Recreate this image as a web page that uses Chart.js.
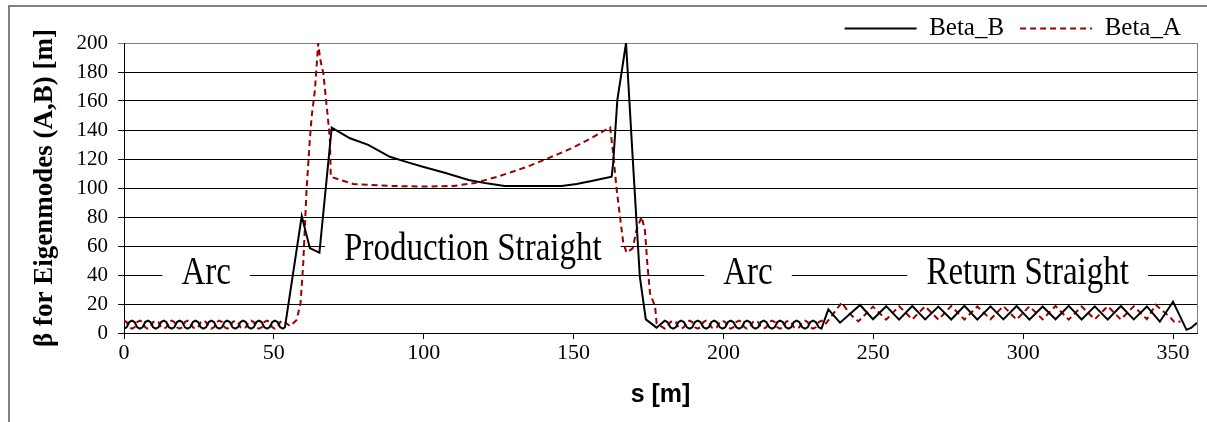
<!DOCTYPE html>
<html>
<head>
<meta charset="utf-8">
<script src="https://cdn.jsdelivr.net/npm/chart.js@4.4.0/dist/chart.umd.min.js"></script>
<style>
    html, body { margin: 0; padding: 0; background: #fff; }
    #betaChart { display: block; }
</style>
</head>
<body>
<canvas id="betaChart" width="1207" height="422"></canvas>
<script>
// Beta functions along the ring
const xTickValues = [0, 50, 100, 150, 200, 250, 300, 350];
const yTickValues = [0, 20, 40, 60, 80, 100, 120, 140, 160, 180, 200];

// Beta_B (solid black)
const sB = [
    // arc 1
    0, 0.88, 1.77, 2.65, 3.53, 4.42, 5.3, 6.18, 7.07, 7.95, 8.83, 9.72, 10.6, 11.48, 12.37, 13.25, 14.13, 15.02, 15.9, 16.78,
    17.67, 18.55, 19.43, 20.32, 21.2, 22.08, 22.97, 23.85, 24.73, 25.62, 26.5, 27.38, 28.27, 29.15, 30.03, 30.92, 31.8, 32.68,
    33.57, 34.45, 35.33, 36.22, 37.1, 37.98, 38.87, 39.75, 40.63, 41.52, 42.4, 43.28, 44.17, 45.05, 45.93, 46.82, 47.7, 48.58,
    49.47, 50.35, 51.23, 52.12, 53.0,
    // production straight
    53.7, 59.3, 62.0, 65.2, 69.3, 75.4, 81.5, 88.7, 95, 100, 107, 115, 121, 127, 137, 146, 151, 156, 162.7, 163.2, 164.6, 167.5,
    169.7, 172.1, 174.1, 177.7,
    // arc 2
    180.4, 181.3, 182.3, 183.2, 184.1, 185.0, 185.9, 186.8, 187.8, 188.7, 189.6, 190.5, 191.4, 192.3, 193.3, 194.2, 195.1, 196.0,
    196.9, 197.8, 198.8, 199.7, 200.6, 201.5, 202.4, 203.3, 204.3, 205.2, 206.1, 207.0, 207.9, 208.8, 209.8, 210.7, 211.6, 212.5,
    213.4, 214.3, 215.3, 216.2, 217.1, 218.0, 218.9, 219.8, 220.8, 221.7, 222.6, 223.5, 224.4, 225.3, 226.3, 227.2, 228.1, 229.0,
    229.9, 230.8, 231.8, 232.7,
    // return straight
    235.0, 238.9, 245.6, 249.9, 254.3, 258.6, 263.0, 267.3, 271.7, 276.0, 280.4, 284.7, 289.1, 293.4, 297.8, 302.1, 306.5, 310.8,
    315.2, 319.5, 323.9, 328.2, 332.6, 336.9, 341.3, 345.6, 350.0, 354.5, 356.0, 358.0
];
const betaB = [
    3, 3.9, 7.6, 8.5, 7.6, 3.9, 3, 3.9, 7.6, 8.5, 7.6, 3.9, 3, 3.9, 7.6, 8.5, 7.6, 3.9, 3, 3.9,
    7.6, 8.5, 7.6, 3.9, 3, 3.9, 7.6, 8.5, 7.6, 3.9, 3, 3.9, 7.6, 8.5, 7.6, 3.9, 3, 3.9,
    7.6, 8.5, 7.6, 3.9, 3, 3.9, 7.6, 8.5, 7.6, 3.9, 3, 3.9, 7.6, 8.5, 7.6, 3.9, 3, 3.9,
    7.6, 8.5, 7.6, 3.9, 3,
    4, 80.7, 58.6, 55.4, 141.6, 134.3, 129.7, 121.5, 117.5, 114.5, 110.5, 105.5, 103.2, 101.4, 101.3, 101.4, 102.8, 104.8, 107.8, 117, 160.7, 200,
    121.6, 38.8, 9.4, 3.7,
    8.5, 7.6, 3.9, 3, 3.9, 7.6, 8.5, 7.6, 3.9, 3, 3.9, 7.6, 8.5, 7.6, 3.9, 3, 3.9, 7.6,
    8.5, 7.6, 3.9, 3, 3.9, 7.6, 8.5, 7.6, 3.9, 3, 3.9, 7.6, 8.5, 7.6, 3.9, 3, 3.9, 7.6,
    8.5, 7.6, 3.9, 3, 3.9, 7.6, 8.5, 7.6, 3.9, 3, 3.9, 7.6, 8.5, 7.6, 3.9, 3, 3.9, 7.6,
    8.5, 7.6, 3.9, 3,
    16.3, 7.1, 19.3, 9.5, 18.5, 9.2, 18.6, 9.4, 18.2, 9.3, 18.8, 9.2, 18.4, 9.4, 18.6, 9.2, 18.3, 9.5,
    18.7, 9.3, 18.4, 9.2, 18.6, 9.4, 18.3, 7.8, 21.6, 2.2, 3.5, 7
];

// Beta_A (dashed red)
const sA = [
    // arc 1
    0, 0.88, 1.77, 2.65, 3.53, 4.42, 5.3, 6.18, 7.07, 7.95, 8.83, 9.72, 10.6, 11.48, 12.37, 13.25, 14.13, 15.02, 15.9, 16.78,
    17.67, 18.55, 19.43, 20.32, 21.2, 22.08, 22.97, 23.85, 24.73, 25.62, 26.5, 27.38, 28.27, 29.15, 30.03, 30.92, 31.8, 32.68,
    33.57, 34.45, 35.33, 36.22, 37.1, 37.98, 38.87, 39.75, 40.63, 41.52, 42.4, 43.28, 44.17, 45.05, 45.93, 46.82, 47.7, 48.58,
    49.47, 50.35, 51.23, 52.12, 53.0,
    // production straight
    55.4, 57.6, 58.9, 59.8, 60.9, 62.0, 62.6, 63.7, 64.8, 65.4, 66.5, 68.1, 68.7, 69.0, 71.5, 76.5, 88.7, 100, 110, 117, 125, 135, 145,
    150, 155.5, 162.2, 163.2, 164.4, 165.5, 166.6, 167.7, 169.7, 171.0, 172.7, 173.8, 174.6, 175.5, 177.2, 177.7,
    // arc 2
    180.4, 181.3, 182.3, 183.2, 184.1, 185.0, 185.9, 186.8, 187.8, 188.7, 189.6, 190.5, 191.4, 192.3, 193.3, 194.2, 195.1, 196.0,
    196.9, 197.8, 198.8, 199.7, 200.6, 201.5, 202.4, 203.3, 204.3, 205.2, 206.1, 207.0, 207.9, 208.8, 209.8, 210.7, 211.6, 212.5,
    213.4, 214.3, 215.3, 216.2, 217.1, 218.0, 218.9, 219.8, 220.8, 221.7, 222.6, 223.5, 224.4, 225.3, 226.3, 227.2, 228.1, 229.0,
    229.9, 230.8, 231.8, 232.7,
    // return straight
    234.0, 238.0, 239.5, 242.0, 245.0, 249.9, 254.3, 258.6, 263.0, 267.3, 271.7, 276.0, 280.4, 284.7, 289.1, 293.4, 297.8, 302.1,
    306.5, 310.8, 315.2, 319.5, 323.9, 328.2, 332.6, 336.9, 341.3, 344.2, 349.0, 350.5, 352.5
];
const betaA = [
    8.5, 7.6, 3.9, 3, 3.9, 7.6, 8.5, 7.6, 3.9, 3, 3.9, 7.6, 8.5, 7.6, 3.9, 3, 3.9, 7.6, 8.5, 7.6,
    3.9, 3, 3.9, 7.6, 8.5, 7.6, 3.9, 3, 3.9, 7.6, 8.5, 7.6, 3.9, 3, 3.9, 7.6, 8.5, 7.6,
    3.9, 3, 3.9, 7.6, 8.5, 7.6, 3.9, 3, 3.9, 7.6, 8.5, 7.6, 3.9, 3, 3.9, 7.6, 8.5, 7.6,
    3.9, 3, 3.9, 7.6, 8.5,
    4.8, 9, 20.5, 48, 98.6, 133, 149, 167.6, 200, 189.5, 179, 147, 133, 107.8, 106, 102.8, 101.4, 101, 101.4, 103.5, 108, 115, 123.5,
    128, 134, 141.8, 123.9, 98.6, 80, 61.8, 55.4, 58.4, 71, 80.2, 71, 48, 27.4, 18.2, 6.7,
    3, 3.9, 7.6, 8.5, 7.6, 3.9, 3, 3.9, 7.6, 8.5, 7.6, 3.9, 3, 3.9, 7.6, 8.5, 7.6, 3.9,
    3, 3.9, 7.6, 8.5, 7.6, 3.9, 3, 3.9, 7.6, 8.5, 7.6, 3.9, 3, 3.9, 7.6, 8.5, 7.6, 3.9,
    3, 3.9, 7.6, 8.5, 7.6, 3.9, 3, 3.9, 7.6, 8.5, 7.6, 3.9, 3, 3.9, 7.6, 8.5, 7.6, 3.9,
    3, 3.9, 7.6, 8.5,
    6, 17, 21, 13.6, 8, 18.2, 9.2, 18.5, 9.4, 18.4, 9.2, 18.6, 9.3, 18.3, 9.5, 18.6, 9.2, 18.4,
    9.4, 18.6, 9.2, 18.3, 9.4, 18.5, 9.3, 18.4, 9.5, 19.5, 11, 7.5, 8
];

// Section labels on the plot (s, beta of text baseline)
const regionNames = ["Arc", "Production Straight", "Arc", "Return Straight"];
const regionS = [27.4, 116.4, 208.2, 301.5];
const regionV = [34.1, 50.3, 34.1, 34.1];

let betaChartInstance = null;

// Gray outer frame and plot border
const framePlugin = {
    id: "frame",
    beforeDraw(chart) {
        const ctx = chart.ctx;
        ctx.save();
        ctx.fillStyle = "#fff";
        ctx.fillRect(0, 0, chart.width, chart.height);
        ctx.strokeStyle = "#808080";
        ctx.lineWidth = 2;
        ctx.beginPath();
        ctx.moveTo(9, chart.height);
        ctx.lineTo(9, 6);
        ctx.lineTo(chart.width, 6);
        ctx.stroke();
        ctx.restore();
    },
    afterDraw(chart) {
        const { ctx, chartArea } = chart;
        ctx.save();
        ctx.strokeStyle = "#808080";
        ctx.lineWidth = 1;
        ctx.beginPath();
        ctx.moveTo(Math.round(chartArea.right) + 0.5, chartArea.top);
        ctx.lineTo(Math.round(chartArea.right) + 0.5, chartArea.bottom);
        ctx.stroke();
        ctx.restore();
    }
};

// Section names with white boxes over the grid
const regionPlugin = {
    id: "regions",
    beforeDatasetsDraw(chart) {
        const { ctx, scales } = chart;
        ctx.save();
        ctx.font = '33px "Liberation Serif"';
        regionNames.forEach((name, i) => {
            const x = scales.x.getPixelForValue(regionS[i]);
            const y = scales.y.getPixelForValue(regionV[i]);
            const w = ctx.measureText(name).width;
            ctx.fillStyle = "#fff";
            ctx.fillRect(x - w / 2 - 19, y - 32, w + 38, 40);
            ctx.save();
            ctx.translate(x, y);
            ctx.scale(1, 1.22);
            ctx.fillStyle = "#000";
            ctx.textAlign = "center";
            ctx.textBaseline = "alphabetic";
            ctx.fillText(name, 0, 0);
            ctx.restore();
        });
        ctx.restore();
    }
};

function toPoints(xs, ys) {
    return xs.map((x, i) => ({ x: x, y: ys[i] }));
}

// Legend lines: keep the dataset dash pattern
function legendLabels(chart) {
    const items = Chart.defaults.plugins.legend.labels.generateLabels(chart);
    items.forEach((item) => {
        const ds = chart.data.datasets[item.datasetIndex];
        item.lineDash = ds.borderDash || [];
        item.strokeStyle = ds.borderColor;
        item.lineWidth = ds.borderWidth;
    });
    return items;
}

function buildChart() {
    const ctx = document.getElementById("betaChart").getContext("2d");
    betaChartInstance = new Chart(ctx, {
        type: "line",
        data: {
            datasets: [
                {
                    label: "Beta_B",
                    data: toPoints(sB, betaB),
                    borderColor: "#000",
                    backgroundColor: "#000",
                    borderWidth: 2,
                    pointRadius: 0,
                    tension: 0
                },
                {
                    label: "Beta_A",
                    data: toPoints(sA, betaA),
                    borderColor: "#990000",
                    backgroundColor: "#990000",
                    borderWidth: 2,
                    borderDash: [6, 4],
                    pointRadius: 0,
                    tension: 0
                }
            ]
        },
        options: {
            responsive: false,
            animation: false,
            devicePixelRatio: 1,
            layout: { padding: { left: 10, right: 10, top: 0, bottom: 0 } },
            plugins: {
                tooltip: { enabled: false },
                legend: {
                    position: "top",
                    align: "end",
                    maxHeight: 43,
                    labels: {
                        usePointStyle: true,
                        pointStyle: "line",
                        pointStyleWidth: 72,
                        color: "#000",
                        padding: 16,
                        font: { family: "Liberation Serif", size: 25 },
                        generateLabels: legendLabels
                    }
                }
            },
            scales: {
                x: {
                    type: "linear",
                    min: 0,
                    max: 358,
                    afterBuildTicks: (scale) => {
                        scale.ticks = xTickValues.map(v => ({ value: v }));
                    },
                    afterFit: (scale) => { scale.height = 89; },
                    grid: { drawOnChartArea: false, tickLength: 6, color: "#000" },
                    border: { color: "#000", width: 1 },
                    ticks: {
                        color: "#000",
                        maxRotation: 0,
                        padding: 1,
                        font: { family: "Liberation Serif", size: 22 }
                    },
                    title: {
                        display: true,
                        text: "s [m]",
                        color: "#000",
                        font: { family: "Liberation Sans", size: 25, weight: "bold" },
                        padding: { top: 0, bottom: 12 }
                    }
                },
                y: {
                    min: 0,
                    max: 200,
                    afterBuildTicks: (scale) => {
                        scale.ticks = yTickValues.map(v => ({ value: v }));
                    },
                    afterFit: (scale) => { scale.width = 114; },
                    grid: {
                        tickLength: 6,
                        color: (c) => (c.tick && c.tick.value === 200 ? "#808080" : "#000")
                    },
                    border: { color: "#000", width: 1 },
                    ticks: {
                        color: "#000",
                        padding: 10,
                        font: { family: "Liberation Serif", size: 21 }
                    },
                    title: {
                        display: true,
                        text: "β for Eigenmodes (A,B) [m]",
                        color: "#000",
                        font: { family: "Liberation Serif", size: 27, weight: "bold" },
                        padding: { top: 19, bottom: 0 }
                    }
                }
            }
        },
        plugins: [framePlugin, regionPlugin]
    });
}

document.addEventListener("DOMContentLoaded", buildChart);
</script>
</body>
</html>
